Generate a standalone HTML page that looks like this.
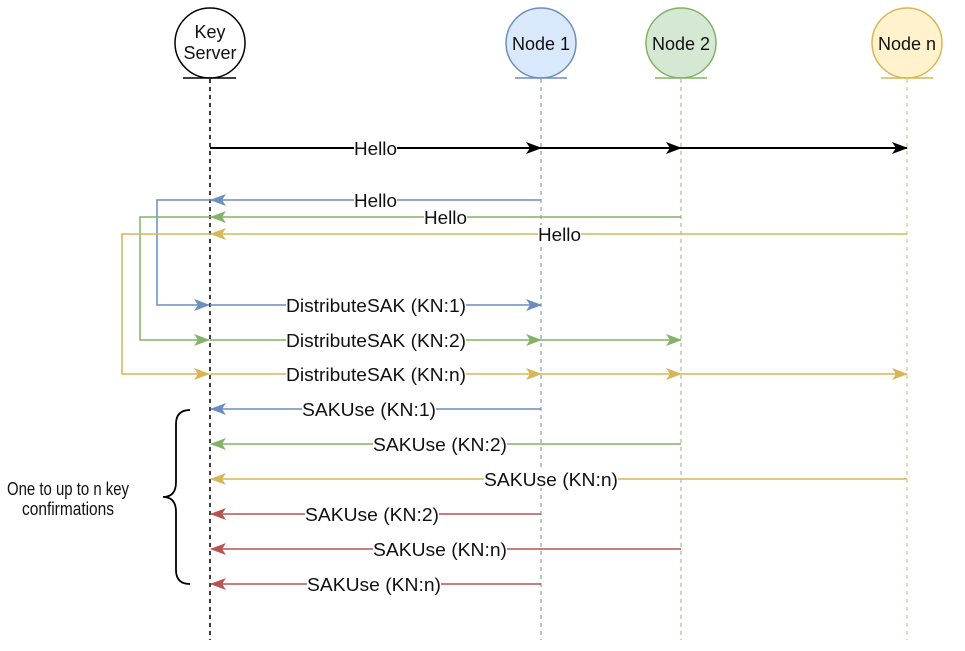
<!DOCTYPE html>
<html><head><meta charset="utf-8"><style>
html,body{margin:0;padding:0;background:#fff;}
svg{display:block;}
text{font-family:"Liberation Sans",Arial,sans-serif;font-size:18px;fill:#111;}
</style></head><body>
<svg width="965" height="651" viewBox="0 0 965 651" xmlns="http://www.w3.org/2000/svg">
<defs>
<marker id="mk" viewBox="0 0 16 12" refX="15" refY="6" markerWidth="16" markerHeight="12" markerUnits="userSpaceOnUse" orient="auto"><path d="M0,0 L16,6 L0,12 L4,6 Z" fill="#000"/></marker>
<marker id="mb" viewBox="0 0 16 12" refX="15" refY="6" markerWidth="16" markerHeight="12" markerUnits="userSpaceOnUse" orient="auto"><path d="M0,0 L16,6 L0,12 L4,6 Z" fill="#6c8ebf"/></marker>
<marker id="mg" viewBox="0 0 16 12" refX="15" refY="6" markerWidth="16" markerHeight="12" markerUnits="userSpaceOnUse" orient="auto"><path d="M0,0 L16,6 L0,12 L4,6 Z" fill="#82b366"/></marker>
<marker id="my" viewBox="0 0 16 12" refX="15" refY="6" markerWidth="16" markerHeight="12" markerUnits="userSpaceOnUse" orient="auto"><path d="M0,0 L16,6 L0,12 L4,6 Z" fill="#d6b656"/></marker>
<marker id="mr" viewBox="0 0 16 12" refX="15" refY="6" markerWidth="16" markerHeight="12" markerUnits="userSpaceOnUse" orient="auto"><path d="M0,0 L16,6 L0,12 L4,6 Z" fill="#b85450"/></marker>
</defs>

<line x1="210" y1="79" x2="210" y2="640" stroke="#000" stroke-width="1.5" stroke-dasharray="4,4"/>
<line x1="541" y1="79" x2="541" y2="640" stroke="#8a9bb5" stroke-width="1.2" stroke-dasharray="4,4"/>
<line x1="681" y1="79" x2="681" y2="640" stroke="#9fc48c" stroke-width="1.2" stroke-dasharray="4,4"/>
<line x1="907" y1="79" x2="907" y2="640" stroke="#dcc67e" stroke-width="1.2" stroke-dasharray="4,4"/>

<circle cx="210" cy="43" r="35" fill="#fff" stroke="#000" stroke-width="1.5"/>
<line x1="183" y1="78" x2="236" y2="78" stroke="#000" stroke-width="1.5"/>
<text x="210" y="38" text-anchor="middle" font-size="17">Key</text>
<text x="210" y="59" text-anchor="middle" font-size="17">Server</text>

<circle cx="541" cy="43" r="35" fill="#dae8fc" stroke="#6c8ebf" stroke-width="1.5"/>
<line x1="515" y1="78" x2="567" y2="78" stroke="#6c8ebf" stroke-width="1.5"/>
<text x="541" y="50" text-anchor="middle" font-size="17">Node 1</text>

<circle cx="681" cy="43" r="35" fill="#d5e8d4" stroke="#82b366" stroke-width="1.5"/>
<line x1="655" y1="78" x2="707" y2="78" stroke="#82b366" stroke-width="1.5"/>
<text x="681" y="50" text-anchor="middle" font-size="17">Node 2</text>

<circle cx="907" cy="43" r="35" fill="#fff2cc" stroke="#d6b656" stroke-width="1.5"/>
<line x1="881" y1="78" x2="933" y2="78" stroke="#d6b656" stroke-width="1.5"/>
<text x="907" y="50" text-anchor="middle" font-size="17">Node n</text>

<g stroke="#000" stroke-width="2" fill="none">
<line x1="210" y1="148" x2="541" y2="148" marker-end="url(#mk)"/>
<line x1="541" y1="148" x2="681" y2="148" marker-end="url(#mk)"/>
<line x1="681" y1="148" x2="907" y2="148" marker-end="url(#mk)"/>
</g>
<rect x="354" y="139" width="43" height="18" fill="#fff"/>
<text x="354" y="155" textLength="43" lengthAdjust="spacingAndGlyphs">Hello</text>

<g fill="none" stroke-width="1.5">
<line x1="541" y1="200" x2="211" y2="200" stroke="#6c8ebf" marker-end="url(#mb)"/>
<line x1="681" y1="217" x2="211" y2="217" stroke="#82b366" marker-end="url(#mg)"/>
<line x1="907" y1="234" x2="211" y2="234" stroke="#d6b656" marker-end="url(#my)"/>
<polyline points="211,200 157,200 157,305 209,305" stroke="#6c8ebf" marker-end="url(#mb)"/>
<polyline points="211,217 140,217 140,340 209,340" stroke="#82b366" marker-end="url(#mg)"/>
<polyline points="211,234 122,234 122,374 209,374" stroke="#d6b656" marker-end="url(#my)"/>
<line x1="210" y1="305" x2="541" y2="305" stroke="#6c8ebf" marker-end="url(#mb)"/>
<line x1="210" y1="340" x2="541" y2="340" stroke="#82b366" marker-end="url(#mg)"/>
<line x1="541" y1="340" x2="681" y2="340" stroke="#82b366" marker-end="url(#mg)"/>
<line x1="210" y1="374" x2="541" y2="374" stroke="#d6b656" marker-end="url(#my)"/>
<line x1="541" y1="374" x2="681" y2="374" stroke="#d6b656" marker-end="url(#my)"/>
<line x1="681" y1="374" x2="907" y2="374" stroke="#d6b656" marker-end="url(#my)"/>

<line x1="541" y1="409" x2="211" y2="409" stroke="#6c8ebf" marker-end="url(#mb)"/>
<line x1="681" y1="444" x2="211" y2="444" stroke="#82b366" marker-end="url(#mg)"/>
<line x1="907" y1="479" x2="211" y2="479" stroke="#d6b656" marker-end="url(#my)"/>
<line x1="541" y1="514" x2="211" y2="514" stroke="#b85450" marker-end="url(#mr)"/>
<line x1="681" y1="549" x2="211" y2="549" stroke="#b85450" marker-end="url(#mr)"/>
<line x1="541" y1="584" x2="211" y2="584" stroke="#b85450" marker-end="url(#mr)"/>
</g>

<g>
<rect x="354" y="191" width="43" height="18" fill="#fff"/><text x="354" y="207" textLength="43" lengthAdjust="spacingAndGlyphs">Hello</text>
<rect x="424" y="208" width="43" height="18" fill="#fff"/><text x="424" y="224" textLength="43" lengthAdjust="spacingAndGlyphs">Hello</text>
<rect x="538" y="225" width="43" height="18" fill="#fff"/><text x="538" y="241" textLength="43" lengthAdjust="spacingAndGlyphs">Hello</text>
<rect x="286" y="296" width="180" height="18" fill="#fff"/><text x="286" y="312" textLength="180" lengthAdjust="spacingAndGlyphs">DistributeSAK (KN:1)</text>
<rect x="286" y="331" width="180" height="18" fill="#fff"/><text x="286" y="347" textLength="180" lengthAdjust="spacingAndGlyphs">DistributeSAK (KN:2)</text>
<rect x="286" y="365" width="180" height="18" fill="#fff"/><text x="286" y="381" textLength="180" lengthAdjust="spacingAndGlyphs">DistributeSAK (KN:n)</text>
<rect x="302" y="400" width="134" height="18" fill="#fff"/><text x="302" y="416" textLength="134" lengthAdjust="spacingAndGlyphs">SAKUse (KN:1)</text>
<rect x="373" y="435" width="134" height="18" fill="#fff"/><text x="373" y="451" textLength="134" lengthAdjust="spacingAndGlyphs">SAKUse (KN:2)</text>
<rect x="484" y="470" width="134" height="18" fill="#fff"/><text x="484" y="486" textLength="134" lengthAdjust="spacingAndGlyphs">SAKUse (KN:n)</text>
<rect x="305" y="505" width="134" height="18" fill="#fff"/><text x="305" y="521" textLength="134" lengthAdjust="spacingAndGlyphs">SAKUse (KN:2)</text>
<rect x="373" y="540" width="134" height="18" fill="#fff"/><text x="373" y="556" textLength="134" lengthAdjust="spacingAndGlyphs">SAKUse (KN:n)</text>
<rect x="307" y="575" width="134" height="18" fill="#fff"/><text x="307" y="591" textLength="134" lengthAdjust="spacingAndGlyphs">SAKUse (KN:n)</text>
</g>

<path d="M190,410 Q176,410 176,424 L176,482 Q176,497 163,497 Q176,497 176,512 L176,570 Q176,584 190,584" fill="none" stroke="#000" stroke-width="1.8"/>
<text x="7" y="495" textLength="122" lengthAdjust="spacingAndGlyphs">One to up to n key</text>
<text x="22" y="515" textLength="92" lengthAdjust="spacingAndGlyphs">confirmations</text>
</svg>
</body></html>
